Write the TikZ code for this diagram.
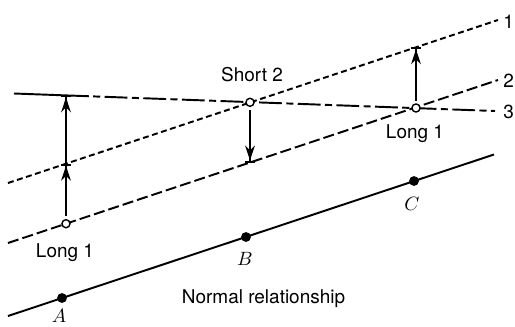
\documentclass[tikz,border=0pt]{standalone}
\usepackage{fontspec}
\setsansfont{TeX Gyre Heros}
\usetikzlibrary{arrows.meta,calc}
\tikzset{
  open pt/.style={
    circle,
    draw,
    fill=white,
    line width=0.8pt,
    minimum size=4.6pt,
    inner sep=0pt
  },
  dot/.style={
    circle,
    fill=black,
    minimum size=5.6pt,
    inner sep=0pt
  },
  lbl/.style={font=\fontsize{10.8}{13}\sffamily},
  pt lbl/.style={font=\fontsize{10.8}{13}\selectfont},
  shift arrow/.style={
    line width=1.1pt,
    -{Stealth[length=8.5pt,width=5.5pt,sep=0pt]Bar[width=6pt]},
    shorten <=1.5pt
  },
  short dash/.style={line width=1.1pt, dash pattern=on 3.4pt off 2pt},
  long dash/.style={line width=1.1pt, dash pattern=on 6.3pt off 2.3pt},
  dash dot/.style={line width=1.1pt, dash pattern=on 13pt off 2.5pt on 4pt off 2.5pt}
}
\begin{document}
\begin{tikzpicture}[x=0.02cm,y=-0.02cm]
  \useasboundingbox (0,0) rectangle (515,326);

  % Normal relationship
  \coordinate (n start) at (8,316);
  \coordinate (n end) at (494,154.5);
  \draw[line width=1.1pt] (n start) -- (n end);
  \node[dot] (A) at (62,298) {};
  \node[dot] (B) at (246,237) {};
  \node[dot] (C) at (414,181) {};
  \node[pt lbl, anchor=base] (A lbl) at (59,322.5) {$A$};
  \node[pt lbl, anchor=base] (B lbl) at (245,265) {$B$};
  \node[pt lbl, anchor=base] (C lbl) at (412,210) {$C$};
  \node[lbl, anchor=base] (normal lbl) at (263.5,303) {Normal relationship};

  % Lines 1, 2 and 3
  \coordinate (l1 start) at (8,183);
  \coordinate (l1 end) at (498,20);
  \coordinate (l2 start) at (8,243);
  \coordinate (l2 end) at (498,80);
  \coordinate (l3 start) at (14,93.5);
  \coordinate (l3 end) at (495,111);
  \draw[short dash] (l1 start) -- (l1 end);
  \draw[long dash] (l2 start) -- (l2 end);

  % Arrow end points
  \coordinate (p1) at (66,163.7);
  \coordinate (p2) at (66,95.4);
  \coordinate (p3) at (250,162.5);
  \coordinate (p4) at (416,47.3);

  \draw[line width=1.1pt] (l3 start) -- (p2);
  \draw[dash dot] (p2) -- (l3 end);

  \node[lbl, anchor=base west, inner sep=0pt] (one) at (503,28) {1};
  \node[lbl, anchor=base west, inner sep=0pt] (two) at (503,87) {2};
  \node[lbl, anchor=base west, inner sep=0pt] (three) at (503,118) {3};

  % Shifted points
  \node[open pt] (long left) at (66,223.7) {};
  \node[open pt] (short) at (250,102.3) {};
  \node[open pt] (long right) at (416,108) {};
  \node[lbl, anchor=base] (long left lbl) at (65,257) {Long 1};
  \node[lbl] (short lbl) at (252,75) {Short 2};
  \node[lbl, anchor=base] (long right lbl) at (415,138) {Long 1};

  % Shifts
  \draw[shift arrow] (long left) -- (p1);
  \draw[shift arrow, shorten <=0pt] (p1) -- (p2);
  \draw[shift arrow] (short) -- (p3);
  \draw[shift arrow] (long right) -- (p4);
\end{tikzpicture}
\end{document}
